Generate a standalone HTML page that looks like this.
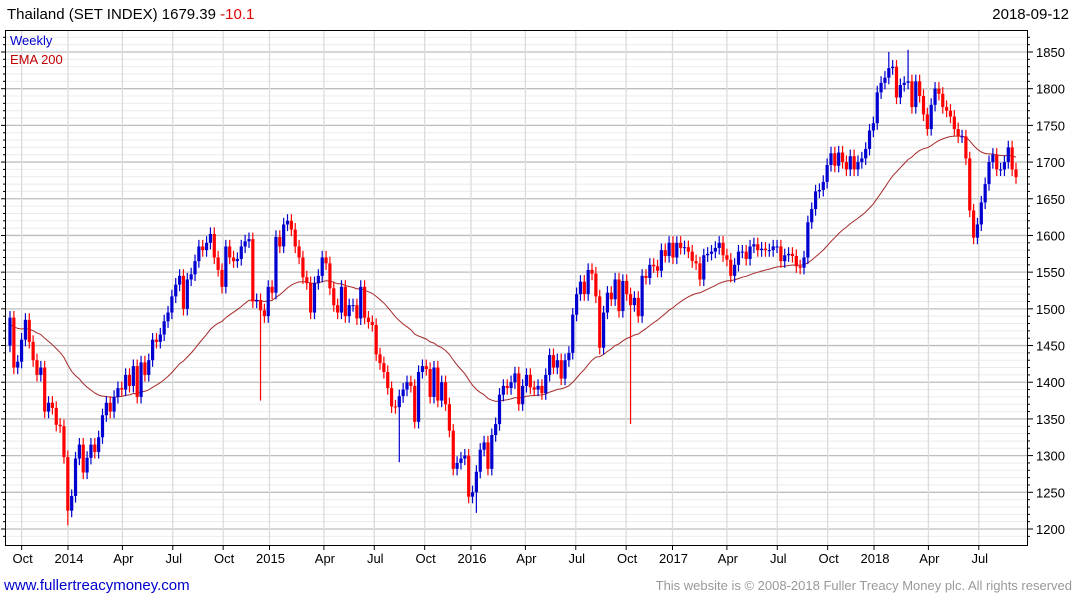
<!DOCTYPE html>
<html><head><meta charset="utf-8">
<style>
html,body{margin:0;padding:0;background:#fff;width:1075px;height:600px;overflow:hidden;font-family:"Liberation Sans",sans-serif}
svg{display:block}
</style></head><body>
<svg id="chart" width="1075" height="600" xmlns="http://www.w3.org/2000/svg">
<text x="7" y="19" font-size="15" fill="#000">Thailand (SET INDEX) 1679.39 <tspan fill="#e00000">-10.1</tspan></text>
<text x="1069" y="19" font-size="15" fill="#000" text-anchor="end">2018-09-12</text>
<g id="grid"></g>
<g id="ema"></g>
<g id="candles"></g>
<rect x="5.5" y="30.5" width="1022" height="515" fill="none" stroke="#000" stroke-width="1"/>
<g id="yaxis"></g>
<g id="xaxis"></g>
<text x="10" y="45" font-size="13" fill="#0000cc">Weekly</text>
<text x="10" y="64" font-size="13" fill="#c00000">EMA 200</text>
<text x="4" y="590" font-size="15" fill="#0000cc">www.fullertreacymoney.com</text>
<text x="1072" y="590" font-size="13" fill="#999" text-anchor="end">This website is © 2008-2018 Fuller Treacy Money plc. All rights reserved</text>
</svg>
<script>
const closes=[1488,1420,1428,1458,1485,1455,1430,1410,1420,1360,1372,1365,1342,1340,1298,1225,1245,1296,1315,1277,1297,1315,1305,1325,1355,1372,1360,1380,1392,1390,1410,1395,1422,1380,1427,1410,1430,1458,1455,1465,1483,1495,1517,1533,1545,1500,1540,1547,1565,1585,1580,1590,1602,1570,1553,1530,1585,1570,1565,1568,1585,1592,1595,1510,1512,1498,1490,1530,1522,1598,1585,1615,1620,1608,1585,1570,1543,1535,1495,1535,1545,1570,1562,1528,1505,1495,1530,1490,1505,1505,1487,1530,1488,1482,1478,1438,1426,1414,1392,1367,1366,1381,1390,1400,1395,1346,1414,1422,1418,1380,1420,1375,1400,1370,1334,1282,1290,1296,1300,1244,1250,1278,1308,1318,1282,1328,1343,1383,1395,1392,1400,1412,1370,1395,1410,1393,1390,1395,1385,1410,1437,1420,1430,1405,1430,1440,1492,1520,1537,1520,1553,1548,1517,1447,1495,1522,1513,1540,1497,1538,1520,1505,1515,1490,1545,1542,1560,1558,1552,1580,1572,1590,1570,1590,1583,1584,1578,1565,1562,1540,1573,1575,1578,1583,1590,1573,1567,1545,1560,1578,1578,1568,1585,1588,1580,1582,1580,1580,1585,1585,1565,1573,1575,1572,1558,1556,1570,1618,1636,1660,1662,1673,1696,1712,1695,1713,1700,1690,1708,1690,1700,1705,1718,1743,1753,1795,1808,1815,1828,1830,1788,1805,1808,1810,1775,1810,1790,1765,1745,1778,1800,1793,1775,1770,1762,1745,1735,1735,1705,1634,1597,1615,1645,1670,1700,1710,1690,1690,1700,1720,1690,1679.39];
const spikeIdx=[15,65,101,121,161,228,233];
const spikeVal=[1205,1375,1291,1222,1343,1850,1853];
const yTicks=[1200,1250,1300,1350,1400,1450,1500,1550,1600,1650,1700,1750,1800,1850];
const xLabels=["Oct","2014","Apr","Jul","Oct","2015","Apr","Jul","Oct","2016","Apr","Jul","Oct","2017","Apr","Jul","Oct","2018","Apr","Jul"];
const xLabelYears=[2013.77,2014,2014.27,2014.52,2014.77,2015,2015.27,2015.52,2015.77,2016,2016.27,2016.52,2016.77,2017,2017.27,2017.52,2017.77,2018,2018.27,2018.52];
const emaSeed=1478;

const NS="http://www.w3.org/2000/svg";
const L=5,R=1027,T=30,B=545;
const y=v=>529-(v-1200)*0.73385;
const xYear=t=>69+(t-2014)*201.5;
const n=closes.length;
const x=i=>10+i*(1016-10)/(n-1);
function mk(tag,attrs,parent){const e=document.createElementNS(NS,tag);for(const k in attrs)e.setAttribute(k,attrs[k]);parent.appendChild(e);return e;}
const grid=document.getElementById('grid');
for(let v=1190;v<=1880;v+=10){
  const yy=y(v); if(yy<T||yy>B)continue;
  const major=v%50===0;
  const ln=mk('line',{x1:L,x2:R,y1:yy,y2:yy,stroke:major?'#bdbdbd':'#ebebeb','stroke-width':major?1.3:1},grid);
  
  
  const tk=mk('line',{x1:R,x2:R+(major?6:3),y1:yy,y2:yy,stroke:'#000'},document.getElementById('yaxis'));
  
  
  const tk2=mk('line',{x1:L,x2:L-(major?4:2),y1:yy,y2:yy,stroke:'#000'},document.getElementById('yaxis'));
  
  
}
xLabelYears.forEach((t,k)=>{
  const xx=xYear(t);
  const vl=mk('line',{x1:xx-1,x2:xx-1,y1:T,y2:B,stroke:'#dcdcdc','stroke-width':1.3},grid);
  
  
  const tk=mk('line',{x1:xx-1,x2:xx-1,y1:B,y2:B+5,stroke:'#000'},document.getElementById('xaxis'));
  
  
  const tx=mk('text',{x:xx,y:563,'font-size':13,'text-anchor':'middle',fill:'#000'},document.getElementById('xaxis'));
  tx.textContent=xLabels[k];
  
  
});
yTicks.forEach(v=>{
  const tx=mk('text',{x:1036,y:y(v)+5,'font-size':13,fill:'#000'},document.getElementById('yaxis'));
  tx.textContent=v;
  
  
});
let e=emaSeed,pts=[];const a=2/41;
closes.forEach((c,i)=>{e=e+a*(c-e);pts.push(x(i).toFixed(1)+','+y(e).toFixed(1));});
const pl=mk('polyline',{points:pts.join(' '),fill:'none',stroke:'#a52a2a','stroke-width':1},document.getElementById('ema'));


const cg=document.getElementById('candles');
closes.forEach((c,i)=>{
  const o=i===0?1450:closes[i-1];
  const up=c>=o;
  const col=up?'#0000d0':'#ff0000';
  let hi=Math.max(o,c)+9,lo=Math.min(o,c)-9;
  const s=spikeIdx.indexOf(i);
  if(s>=0){if(spikeVal[s]>Math.max(o,c))hi=spikeVal[s];else lo=spikeVal[s];}
  const xx=x(i);
  const w=mk('line',{x1:xx,x2:xx,y1:y(hi),y2:y(lo),stroke:col,'stroke-width':1.2},cg);
  
  
  const top=y(Math.max(o,c)),bot=y(Math.min(o,c));
  const r=mk('rect',{x:xx-1.6,y:top,width:3.2,height:Math.max(1,bot-top),fill:col},cg);
  
  
});
</script>
</body></html>
